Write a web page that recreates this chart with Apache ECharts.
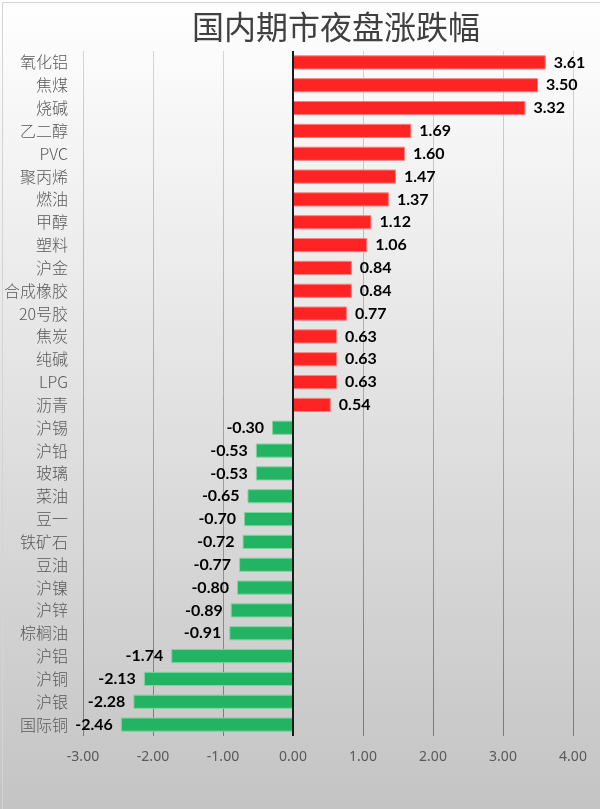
<!DOCTYPE html>
<html>
<head>
<meta charset="utf-8">
<title>国内期市夜盘涨跌幅</title>
<script src="https://cdn.jsdelivr.net/npm/echarts@6/dist/echarts.min.js"></script>
<style>
  html, body { margin: 0; padding: 0; background: #fff; }
  #main { width: 600px; height: 809px; }
</style>
</head>
<body>
<div id="main"></div>
<script>
// 品种 (top to bottom) and night-session change, %
var categories = ['氧化铝', '焦煤', '烧碱', '乙二醇', 'PVC', '聚丙烯', '燃油', '甲醇', '塑料', '沪金',
    '合成橡胶', '20号胶', '焦炭', '纯碱', 'LPG', '沥青', '沪锡', '沪铅', '玻璃', '菜油',
    '豆一', '铁矿石', '豆油', '沪镍', '沪锌', '棕榈油', '沪铝', '沪铜', '沪银', '国际铜'];
var changes = [3.61, 3.50, 3.32, 1.69, 1.60, 1.47, 1.37, 1.12, 1.06, 0.84,
    0.84, 0.77, 0.63, 0.63, 0.63, 0.54, -0.30, -0.53, -0.53, -0.65,
    -0.70, -0.72, -0.77, -0.80, -0.89, -0.91, -1.74, -2.13, -2.28, -2.46];
var xTicks = [-3, -2, -1, 0, 1, 2, 3, 4];

var myChart = echarts.init(document.getElementById('main'));

var barData = [];
for (var i = 0; i < changes.length; i++) {
    var up = changes[i] >= 0;
    barData.push({
        value: changes[i],
        itemStyle: {
            color: up ? '#ff2424' : '#22b463',
            borderColor: up ? '#ff8080' : '#7fd4a0',
            borderWidth: 1
        },
        label: { position: up ? 'right' : 'left' }
    });
}

var option = {
    backgroundColor: new echarts.graphic.LinearGradient(0, 0, 0, 1, [
        { offset: 0, color: '#ffffff' },
        { offset: 1, color: '#c4c4c4' }
    ]),
    graphic: [{
        type: 'rect',
        left: 0,
        top: 0,
        shape: { width: 599, height: 808 },
        style: { fill: 'none', stroke: '#d4d4d4', lineWidth: 1 },
        silent: true
    }],
    title: {
        text: '国内期市夜盘涨跌幅',
        left: 187,
        top: 6,
        textStyle: {
            fontFamily: 'Noto Sans CJK SC',
            fontSize: 32,
            fontWeight: 'normal',
            color: '#404040'
        }
    },
    grid: {
        left: 83,
        right: 27,
        top: 51,
        bottom: 73
    },
    xAxis: {
        type: 'value',
        min: xTicks[0],
        max: xTicks[xTicks.length - 1],
        interval: 1,
        axisLine: { show: false },
        axisTick: { show: false },
        axisLabel: {
            margin: 14,
            color: '#595959',
            fontFamily: 'Noto Sans',
            fontSize: 14,
            formatter: function (v) { return v.toFixed(2); }
        },
        splitLine: {
            lineStyle: {
                width: 1,
                color: new echarts.graphic.LinearGradient(0, 0, 0, 1, [
                    { offset: 0, color: '#d6d6d6' },
                    { offset: 1, color: '#7a7a7a' }
                ])
            }
        }
    },
    yAxis: {
        type: 'category',
        data: categories,
        inverse: true,
        axisLine: { show: false },
        axisTick: { show: false },
        axisLabel: {
            margin: 15,
            color: '#595959',
            fontFamily: 'Noto Sans CJK SC',
            fontWeight: 300,
            fontSize: 16
        }
    },
    series: [{
        type: 'bar',
        data: barData,
        barWidth: '62%',
        label: {
            show: true,
            distance: 8,
            color: '#000',
            fontFamily: 'Lato',
            fontWeight: 'bold',
            fontSize: 16,
            formatter: function (p) { return p.value.toFixed(2); }
        },
        markLine: {
            silent: true,
            symbol: 'none',
            label: { show: false },
            lineStyle: { color: '#1a1a1a', width: 2, type: 'solid' },
            data: [{ xAxis: 0 }]
        }
    }]
};

if (option && typeof option === 'object') {
    myChart.setOption(option, true);
}
</script>
</body>
</html>
